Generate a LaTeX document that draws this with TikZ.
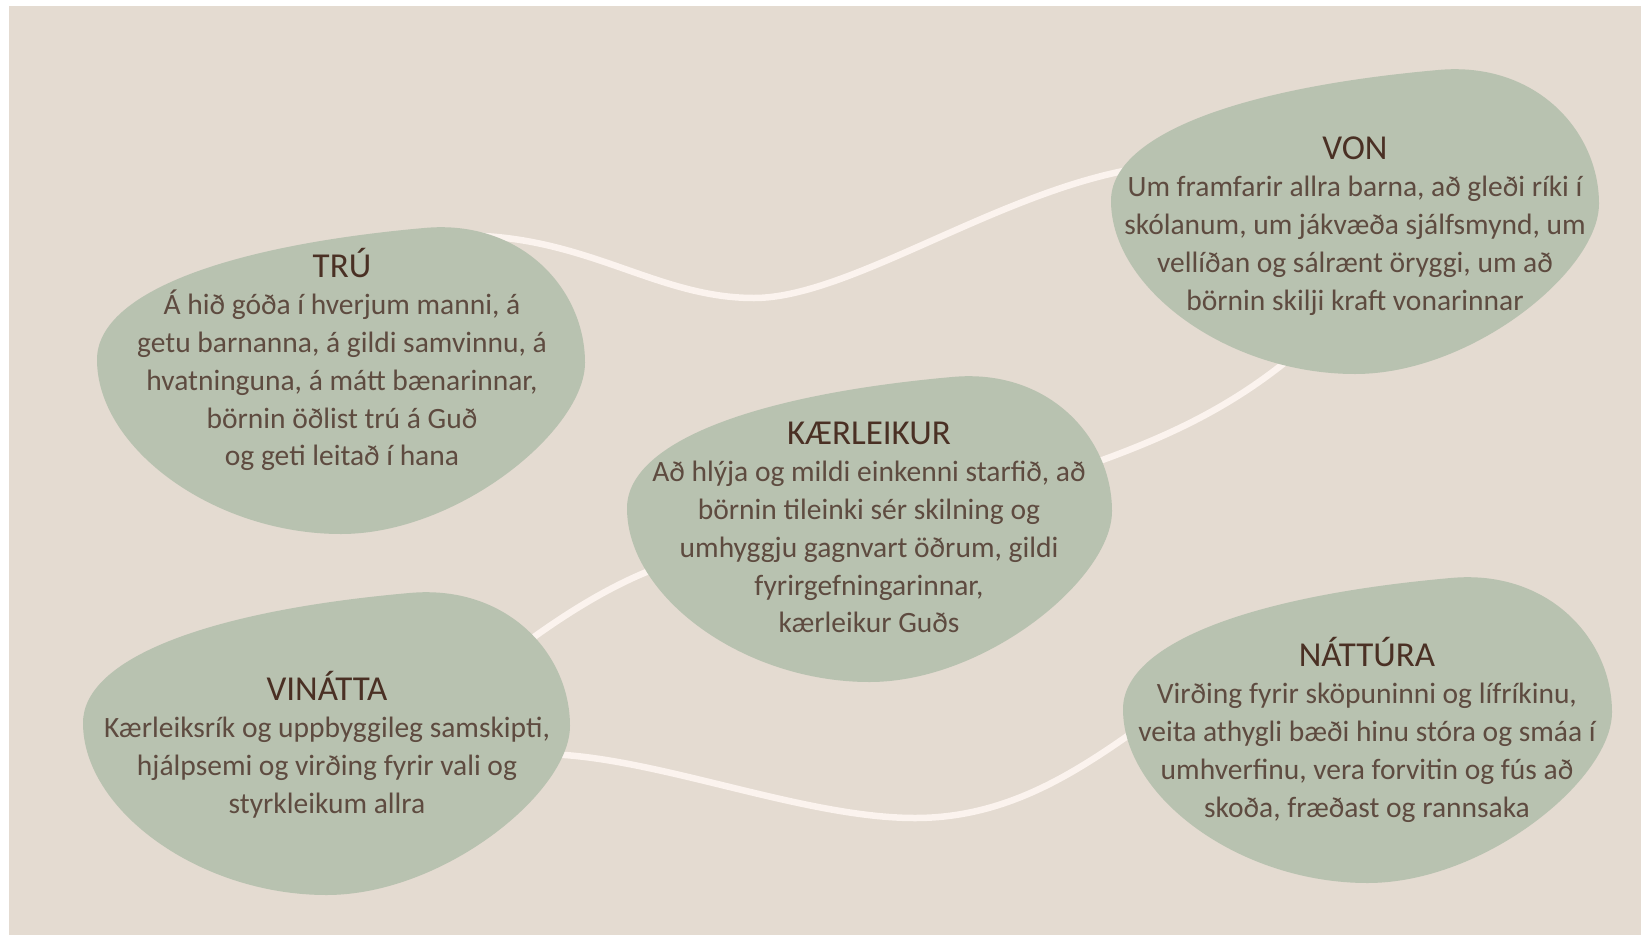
\documentclass[tikz,border=0pt]{standalone}
\usepackage{fontspec}
\setmainfont{Carlito}
\definecolor{bg}{HTML}{E4DBD1}
\definecolor{blobc}{HTML}{B8C2B0}
\definecolor{txt}{HTML}{5E4B40}
\definecolor{ttlc}{HTML}{4A3024}
\definecolor{linkc}{HTML}{FBF3EE}
\tikzset{
  blobfill/.style={fill=blobc},
  linkline/.style={draw=linkc, line width=6.5pt, line cap=round},
  blobtext/.style={align=center, inner sep=0pt, anchor=north, text=txt,
    font=\fontsize{29.5}{37.7}\selectfont},
}
\newcommand\blobttl[1]{{\color{ttlc}\fontsize{35}{37.7}\selectfont\rule{0pt}{40pt}#1}}
\newcommand\blobpath{(0,0.43) .. controls (0,0.22) and (0.25,0.06) .. (0.67,0)
  .. controls (0.87,-0.03) and (1,0.2) .. (1,0.44)
  .. controls (1,0.66) and (0.74,1) .. (0.5,1)
  .. controls (0.24,1) and (0,0.72) .. (0,0.43) -- cycle}
\newcommand\blobat[4]{\begin{scope}[shift={(#1,#2)}, xscale=#3, yscale=#4]
  \fill[blobfill] \blobpath; \end{scope}}
\begin{document}
\begin{tikzpicture}[x=1pt,y=-1pt]
\useasboundingbox (0,0) rectangle (1641,935);
\fill[white] (0,0) rectangle (1641,935);
\fill[bg] (9,6) rectangle (1641,935);
% connector ends
\coordinate (tv1) at (440,236);
\coordinate (tv2) at (1140,168);
\coordinate (vk1) at (1300,350);
\coordinate (vk2) at (1080,468);
\coordinate (kv1) at (680,560);
\coordinate (kv2) at (490,670);
\coordinate (vn1) at (540,754);
\coordinate (vn2) at (1150,720);
% connectors
\draw[linkline] (tv1) .. controls (580,228) and (650,298) .. (754,298)
  .. controls (850,298) and (1000,190) .. (tv2);
\draw[linkline] (vk1) .. controls (1230,410) and (1160,440) .. (vk2);
\draw[linkline] (kv2) .. controls (560,615) and (620,578) .. (kv1);
\draw[linkline] (vn1) .. controls (650,754) and (800,818) .. (915,818)
  .. controls (1010,818) and (1080,770) .. (vn2);
% blobs
\blobat{97}{228}{488}{306}
\blobat{1111}{70}{488}{304}
\blobat{627}{377}{485}{305}
\blobat{83}{593}{487}{302}
\blobat{1123}{578}{489}{305}
% texts
\node[blobtext] (tru) at (342,237) {\blobttl{TRÚ}\\
  Á hið góða í hverjum manni, á\\
  getu barnanna, á gildi samvinnu, á\\
  hvatninguna, á mátt bænarinnar,\\
  börnin öðlist trú á Guð\\
  og geti leitað í hana};
\node[blobtext] (von) at (1355,119) {\blobttl{VON}\\
  Um framfarir allra barna, að gleði ríki í\\
  skólanum, um jákvæða sjálfsmynd, um\\
  vellíðan og sálrænt öryggi, um að\\
  börnin skilji kraft vonarinnar};
\node[blobtext] (kaer) at (869,404) {\blobttl{KÆRLEIKUR}\\
  Að hlýja og mildi einkenni starfið, að\\
  börnin tileinki sér skilning og\\
  umhyggju gagnvart öðrum, gildi\\
  fyrirgefningarinnar,\\
  kærleikur Guðs};
\node[blobtext] (vin) at (327,660) {\blobttl{VINÁTTA}\\
  Kærleiksrík og uppbyggileg samskipti,\\
  hjálpsemi og virðing fyrir vali og\\
  styrkleikum allra};
\node[blobtext] (nat) at (1367,626) {\blobttl{NÁTTÚRA}\\
  Virðing fyrir sköpuninni og lífríkinu,\\
  veita athygli bæði hinu stóra og smáa í\\
  umhverfinu, vera forvitin og fús að\\
  skoða, fræðast og rannsaka};
\end{tikzpicture}
\end{document}
